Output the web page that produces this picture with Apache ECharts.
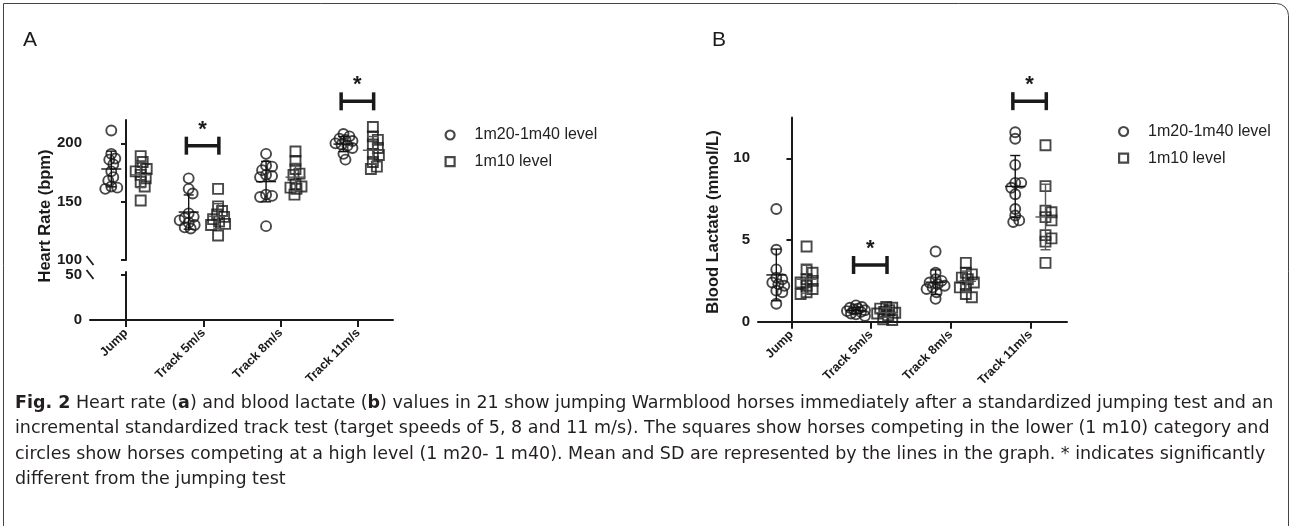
<!DOCTYPE html>
<html>
<head>
<meta charset="utf-8">
<script src="https://cdn.jsdelivr.net/npm/echarts@6.0.0/dist/echarts.min.js"></script>
<style>
  html, body { margin: 0; background: #fff; }
  #chart { width: 1292px; height: 526px; }
</style>
</head>
<body>
<div id="chart"></div>
<script>
const categories = ['Jump', 'Track 5m/s', 'Track 8m/s', 'Track 11m/s'];
const seriesNames = ['1m20-1m40 level', '1m10 level'];

// Heart rate (bpm), one array per category
const hrHigh = [
  [211, 191, 186, 187, 182, 176, 171, 168, 162, 161, 163],
  [170, 161, 157, 140, 137, 136, 134, 132, 130, 128, 127],
  [191, 181, 180, 177, 173, 172, 171, 156, 155, 154, 129],
  [208, 206, 204, 203, 202, 200, 199, 198, 196, 191, 186]
];
const hrLow = [
  [189, 184, 179, 178, 176, 173, 170, 167, 163, 151],
  [161, 146, 142, 139, 137, 135, 133, 131, 130, 121],
  [193, 185, 178, 174, 173, 165, 163, 162, 161, 156],
  [214, 206, 203, 199, 196, 191, 190, 184, 180, 178]
];
// Blood lactate (mmol/L)
const lacHigh = [
  [6.9, 4.4, 3.2, 2.7, 2.6, 2.4, 2.3, 2.2, 1.9, 1.8, 1.1],
  [1.0, 0.9, 0.85, 0.8, 0.75, 0.7, 0.65, 0.6, 0.5, 0.45, 0.35],
  [4.3, 3.0, 2.6, 2.5, 2.4, 2.3, 2.2, 2.1, 2.0, 1.8, 1.4],
  [11.6, 11.2, 9.6, 8.5, 8.5, 8.2, 7.8, 6.9, 6.5, 6.2, 6.1]
];
const lacLow = [
  [4.6, 3.2, 3.0, 2.6, 2.5, 2.4, 2.2, 2.0, 1.8, 1.7],
  [0.9, 0.85, 0.8, 0.7, 0.6, 0.55, 0.5, 0.4, 0.15, 0.1],
  [3.6, 3.0, 2.9, 2.7, 2.6, 2.4, 2.2, 2.1, 1.7, 1.5],
  [10.8, 8.3, 6.8, 6.7, 6.4, 6.2, 5.3, 5.1, 4.9, 3.6]
];

const hrTicks = [100, 150, 200];
const hrLowTicks = [0, 50];
const lacTicks = [0, 5, 10];

// significance brackets: [category index, level]
const hrSig = [[1, 198], [3, 236]];
const lacSig = [[1, 3.47], [3, 13.5]];

const FONT = '"Liberation Sans", Arial, sans-serif';
const CAPTION_FONT = '"DejaVu Sans Condensed", "Liberation Sans Narrow", sans-serif';
const INK = '#1a1a1a';
const OFF = 0.19;

const mean = a => a.reduce((s, v) => s + v, 0) / a.length;
const sd = a => {
  const m = mean(a);
  return Math.sqrt(a.reduce((s, v) => s + (v - m) * (v - m), 0) / (a.length - 1));
};

const pointsOf = (groups, off) => {
  const out = [];
  groups.forEach((g, ci) => g.forEach(v => out.push([ci + off, v, ci])));
  return out;
};
const statsOf = (groups, off) => groups.map((g, ci) => [ci + off, mean(g), sd(g)]);

const axisLineStyle = { color: INK, width: 2 };

const valueAxisY = (gridIndex, min, max, ticks) => ({
  type: 'value', gridIndex, min, max,
  axisLine: { show: true, lineStyle: axisLineStyle },
  axisTick: { show: true, length: 5, lineStyle: axisLineStyle, customValues: ticks },
  axisLabel: {
    customValues: ticks, margin: 8, fontSize: 15, fontWeight: 'bold',
    color: INK, fontFamily: FONT
  },
  splitLine: { show: false }
});

const catAxisX = (gridIndex, min, max, show) => ({
  type: 'value', gridIndex, min, max, show,
  axisLine: { show: true, onZero: false, lineStyle: axisLineStyle },
  axisTick: { show: true, length: 7, lineStyle: axisLineStyle, customValues: [0, 1, 2, 3] },
  axisLabel: {
    customValues: [0, 1, 2, 3], rotate: 45, margin: 11,
    fontSize: 12.5, fontWeight: 'bold', color: INK, fontFamily: FONT,
    formatter: v => categories[Math.round(v)] || ''
  },
  splitLine: { show: false }
});

const meanSdRender = color => (params, api) => {
  const x = api.value(0), m = api.value(1), s = api.value(2);
  const c = api.coord([x, m]);
  const t = api.coord([x, m + s]);
  const b = api.coord([x, m - s]);
  const st = { stroke: color, lineWidth: 1.4 };
  return {
    type: 'group',
    children: [
      { type: 'line', shape: { x1: c[0] - 10, y1: c[1], x2: c[0] + 10, y2: c[1] }, style: st },
      { type: 'line', shape: { x1: c[0], y1: t[1], x2: c[0], y2: b[1] }, style: st },
      { type: 'line', shape: { x1: c[0] - 5, y1: t[1], x2: c[0] + 5, y2: t[1] }, style: st },
      { type: 'line', shape: { x1: c[0] - 5, y1: b[1], x2: c[0] + 5, y2: b[1] }, style: st }
    ]
  };
};

const sigRender = (params, api) => {
  const cat = api.value(0), lv = api.value(1);
  const l = api.coord([cat - 0.22, lv]);
  const r = api.coord([cat + 0.2, lv]);
  const st = { stroke: INK, lineWidth: 3.5 };
  return {
    type: 'group',
    children: [
      { type: 'line', shape: { x1: l[0], y1: l[1], x2: r[0], y2: r[1] }, style: st },
      { type: 'line', shape: { x1: l[0], y1: l[1] - 9, x2: l[0], y2: l[1] + 9 }, style: st },
      { type: 'line', shape: { x1: r[0], y1: r[1] - 9, x2: r[0], y2: r[1] + 9 }, style: st },
      {
        type: 'text', x: (l[0] + r[0]) / 2, y: l[1] - 5,
        style: { text: '*', fontSize: 22, fontWeight: 'bold', fill: INK, align: 'center', verticalAlign: 'bottom', fontFamily: FONT }
      }
    ]
  };
};

const markerStyle = { color: 'rgba(255,255,255,0)', borderColor: INK, borderWidth: 1.9 };

const scatter = (id, name, symbol, data, xi, yi) => ({
  id, name, type: 'scatter', symbol, symbolSize: 10,
  xAxisIndex: xi, yAxisIndex: yi, data,
  itemStyle: markerStyle, silent: true, z: 3
});

const custom = (render, data, xi, yi, z) => ({
  type: 'custom', renderItem: render, data, xAxisIndex: xi, yAxisIndex: yi,
  clip: false, silent: true, z
});

const legendData = seriesNames.map((n, i) => ({
  name: n, icon: i ? 'rect' : 'circle',
  itemStyle: { color: 'rgba(255,255,255,0)', borderColor: INK, borderWidth: 2.2 }
}));
const legendBase = {
  orient: 'vertical', padding: 0, itemWidth: 9, itemHeight: 9, itemGap: 9.7,
  selectedMode: false, data: legendData,
  textStyle: { fontSize: 16, color: '#222', fontFamily: FONT, lineHeight: 17, padding: [0, 0, 0, 15] }
};

const captionLines = [
  '{b|Fig. 2} Heart rate ({b|a}) and blood lactate ({b|b}) values in 21 show jumping Warmblood horses immediately after a standardized jumping test and an',
  'incremental standardized track test (target speeds of 5, 8 and 11 m/s). The squares show horses competing in the lower (1 m10) category and',
  'circles show horses competing at a high level (1 m20- 1 m40). Mean and SD are represented by the lines in the graph. * indicates significantly',
  'different from the jumping test'
];

const option = {
  animation: false,
  backgroundColor: '#fff',
  textStyle: { fontFamily: FONT },
  grid: [
    { left: 90, top: 120, width: 303, height: 140 },
    { left: 90, top: 272, width: 303, height: 48 },
    { left: 758, top: 117.5, width: 309, height: 204.2 }
  ],
  xAxis: [
    catAxisX(0, -0.465, 3.45, false),
    catAxisX(1, -0.465, 3.45, true),
    catAxisX(2, -0.42, 3.46, true)
  ],
  yAxis: [
    valueAxisY(0, 100, 220, hrTicks),
    valueAxisY(1, 0, 53.33, hrLowTicks),
    valueAxisY(2, 0, 12.5, lacTicks)
  ],
  legend: [
    Object.assign({ left: 444.5, top: 126.5 }, legendBase),
    Object.assign({ left: 1118, top: 123 }, legendBase)
  ],
  series: [
    scatter('hrHigh', seriesNames[0], 'circle', pointsOf(hrHigh, -OFF), 0, 0),
    scatter('hrLow', seriesNames[1], 'rect', pointsOf(hrLow, OFF), 0, 0),
    custom(meanSdRender('#111'), statsOf(hrHigh, -OFF), 0, 0, 4),
    custom(meanSdRender('#555'), statsOf(hrLow, OFF), 0, 0, 4),
    custom(sigRender, hrSig, 0, 0, 5),
    scatter('lacHigh', seriesNames[0], 'circle', pointsOf(lacHigh, -OFF), 2, 2),
    scatter('lacLow', seriesNames[1], 'rect', pointsOf(lacLow, OFF), 2, 2),
    custom(meanSdRender('#111'), statsOf(lacHigh, -OFF), 2, 2, 4),
    custom(meanSdRender('#555'), statsOf(lacLow, OFF), 2, 2, 4),
    custom(sigRender, lacSig, 2, 2, 5)
  ],
  graphic: [
    { type: 'rect', shape: { x: 3.5, y: 3.5, width: 1285, height: 620, r: [0, 12, 0, 0] },
      style: { fill: 'none', stroke: '#444', lineWidth: 1 }, silent: true },
    { type: 'text', x: 23, y: 40, style: { text: 'A', fontSize: 21, fill: INK, fontFamily: FONT, verticalAlign: 'middle' } },
    { type: 'text', x: 712, y: 40, style: { text: 'B', fontSize: 21, fill: INK, fontFamily: FONT, verticalAlign: 'middle' } },
    { type: 'text', x: 45, y: 216, rotation: Math.PI / 2,
      style: { text: 'Heart Rate (bpm)', fontSize: 16.5, fontWeight: 'bold', fill: INK, fontFamily: FONT, align: 'center', verticalAlign: 'middle' } },
    { type: 'text', x: 713, y: 222, rotation: Math.PI / 2,
      style: { text: 'Blood Lactate (mmol/L)', fontSize: 16.5, fontWeight: 'bold', fill: INK, fontFamily: FONT, align: 'center', verticalAlign: 'middle' } },
    // axis break marks
    { type: 'line', shape: { x1: 86.5, y1: 256, x2: 93.5, y2: 265 }, style: { stroke: INK, lineWidth: 1.8 } },
    { type: 'line', shape: { x1: 86.5, y1: 270, x2: 93.5, y2: 279 }, style: { stroke: INK, lineWidth: 1.8 } },
    { type: 'text', x: 15, y: 391, scaleX: 1.144,
      style: {
        text: captionLines.join('\n'), fontSize: 17, lineHeight: 25.3, fill: '#231f20',
        fontFamily: CAPTION_FONT, verticalAlign: 'top',
        rich: { b: { fontWeight: 'bold', fontSize: 17, fontFamily: CAPTION_FONT } }
      } }
  ]
};

const chart = echarts.init(document.getElementById('chart'));
chart.setOption(option);

// spread points of each group sideways like a dot plot (pixel based)
function swarm(points, gridIndex) {
  const finder = { gridIndex };
  const D = 6, W = 9;
  const result = points.map(p => p.slice());
  const groups = {};
  points.forEach((p, i) => { (groups[p[2]] = groups[p[2]] || []).push(i); });
  Object.values(groups).forEach(idx => {
    const x0 = points[idx[0]][0];
    const unit = chart.convertToPixel(finder, [x0 + 1, 0])[0] - chart.convertToPixel(finder, [x0, 0])[0];
    const ys = idx.map(i => chart.convertToPixel(finder, [x0, points[i][1]])[1]);
    const order = ys.map((y, k) => k).sort((a, b) => ys[a] - ys[b]);
    const placed = [];
    order.forEach(k => {
      const y = ys[k];
      let best = 0, bestScore = -Infinity;
      for (let s = 0; s <= 2 * W; s++) {
        const c = (s % 2 ? 1 : -1) * Math.ceil(s / 2);
        const dmin = placed.reduce((m, q) => Math.min(m, Math.hypot(q[0] - c, q[1] - y)), Infinity);
        const score = Math.min(dmin, D) - Math.abs(c) * 0.001;
        if (score > bestScore) { bestScore = score; best = c; }
      }
      placed.push([best, y]);
      result[idx[k]][0] = x0 + best / unit;
    });
  });
  return result;
}

chart.setOption({
  series: [
    { id: 'hrHigh', data: swarm(pointsOf(hrHigh, -OFF), 0) },
    { id: 'hrLow', data: swarm(pointsOf(hrLow, OFF), 0) },
    { id: 'lacHigh', data: swarm(pointsOf(lacHigh, -OFF), 2) },
    { id: 'lacLow', data: swarm(pointsOf(lacLow, OFF), 2) }
  ]
});
</script>
</body>
</html>
